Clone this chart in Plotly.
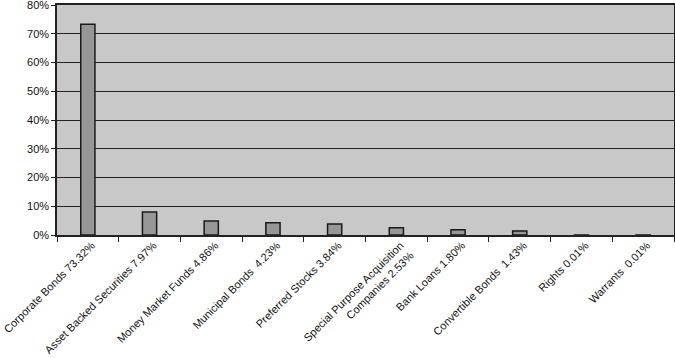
import plotly.graph_objects as go

categories = [
    "Corporate Bonds 73.32%",
    "Asset Backed Securities 7.97%",
    "Money Market Funds 4.86%",
    "Municipal Bonds\u00a0 4.23%",
    "Preferred Stocks 3.84%",
    "Special Purpose Acquisition<br>Companies 2.53%",
    "Bank Loans 1.80%",
    "Convertible Bonds\u00a0 1.43%",
    "Rights 0.01%",
    "Warrants\u00a0 0.01%",
]
values = [73.32, 7.97, 4.86, 4.23, 3.84, 2.53, 1.80, 1.43, 0.01, 0.01]
y_ticks = [0, 10, 20, 30, 40, 50, 60, 70, 80]
y_tick_labels = [f"{v}%" for v in y_ticks]

fig = go.Figure(
    go.Bar(
        x=categories,
        y=values,
        width=0.23,
        marker=dict(color="#969696", line=dict(color="#1a1a1a", width=1.5)),
    )
)

font = dict(family="Liberation Sans, Arial, sans-serif", size=11, color="#111")

fig.update_layout(
    width=675,
    height=358,
    margin=dict(l=57, r=1, t=5, b=123, autoexpand=False),
    paper_bgcolor="white",
    plot_bgcolor="#c8c8c8",
    showlegend=False,
    font=font,
)
fig.update_xaxes(
    tickangle=-45,
    ticks="outside",
    tickson="boundaries",
    ticklen=5,
    tickcolor="#222",
    showline=True,
    linecolor="#222",
    linewidth=1.5,
    mirror=True,
    showgrid=False,
    automargin=False,
    tickfont=font,
    ticklabelstandoff=-2,
    ticklabelshift=4,
    ticklabeloverflow="allow",
)
fig.update_yaxes(
    range=[0, 80],
    tickvals=y_ticks,
    ticktext=y_tick_labels,
    ticks="outside",
    ticklen=4,
    tickcolor="#222",
    showline=True,
    linecolor="#222",
    linewidth=1.5,
    mirror=True,
    showgrid=True,
    gridcolor="#222",
    gridwidth=1,
    zeroline=False,
    automargin=False,
    tickfont=font,
    ticklabeloverflow="allow",
)

fig.write_html(
    "out.html",
    config={"displayModeBar": False},
    post_script="document.body.style.margin='0';document.body.style.padding='0';",
)
